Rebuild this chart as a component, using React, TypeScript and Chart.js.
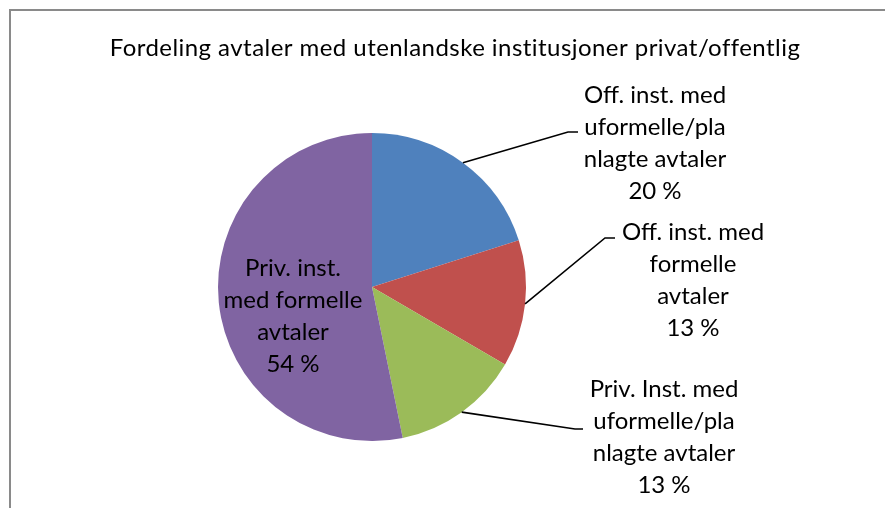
import React, { useEffect, useRef } from "react";
import { Chart, registerables } from "chart.js";

Chart.register(...registerables);

const TITLE = "Fordeling avtaler med utenlandske institusjoner privat/offentlig";
const CATEGORIES = [
  "Off. inst. med uformelle/planlagte avtaler",
  "Off. inst. med formelle avtaler",
  "Priv. Inst. med uformelle/planlagte avtaler",
  "Priv. inst. med formelle avtaler",
];
// slice sizes
const VALUES = [20.1, 13.3, 13.4, 53.2];
const LABEL_LINES = [
  ["Off. inst. med", "uformelle/pla", "nlagte avtaler", "20 %"],
  ["Off. inst. med", "formelle", "avtaler", "13 %"],
  ["Priv. Inst. med", "uformelle/pla", "nlagte avtaler", "13 %"],
  ["Priv. inst.", "med formelle", "avtaler", "54 %"],
];
const COLORS = ["#4F81BD", "#C0504D", "#9BBB59", "#8064A2"];

// label layout (styles/positions, not data)
const LABEL_POS = [
  { x: 655, y: 95, elbow: { x: 568, y: 132 }, end: { x: 578, y: 132 } },
  { x: 693, y: 232, elbow: { x: 605, y: 238 }, end: { x: 615, y: 238 } },
  { x: 664, y: 389, elbow: { x: 575, y: 429 }, end: { x: 583, y: 429 } },
  { x: 293, y: 268, elbow: null, end: null },
];
const LINE_H = 32;
const FONT = "Lato, 'Open Sans', sans-serif";

const labelPlugin = {
  id: "customLabels",
  beforeDraw(chart: any) {
    const ctx = chart.ctx;
    ctx.save();
    ctx.fillStyle = "#ffffff";
    ctx.fillRect(0, 0, chart.width, chart.height);
    ctx.strokeStyle = "#8a8a8a";
    ctx.lineWidth = 2;
    ctx.beginPath();
    ctx.moveTo(10, chart.height);
    ctx.lineTo(10, 10);
    ctx.lineTo(chart.width, 10);
    ctx.stroke();
    ctx.fillStyle = "#000000";
    ctx.font = `24px ${FONT}`;
    try { (ctx as any).letterSpacing = "0.45px"; } catch (e) {}
    ctx.textAlign = "center";
    ctx.textBaseline = "middle";
    ctx.fillText(TITLE, 455, 48);
    ctx.restore();
  },
  afterDraw(chart: any) {
    const ctx = chart.ctx;
    const meta = chart.getDatasetMeta(0);
    ctx.save();
    meta.data.forEach((arc: any, i: number) => {
      const pos = LABEL_POS[i];
      if (pos.elbow && pos.end) {
        const mid = (arc.startAngle + arc.endAngle) / 2;
        const sx = arc.x + Math.cos(mid) * arc.outerRadius;
        const sy = arc.y + Math.sin(mid) * arc.outerRadius;
        ctx.strokeStyle = "#000000";
        ctx.lineWidth = 1.6;
        ctx.beginPath();
        ctx.moveTo(sx, sy);
        ctx.lineTo(pos.elbow.x, pos.elbow.y);
        ctx.lineTo(pos.end.x, pos.end.y);
        ctx.stroke();
      }
      ctx.fillStyle = "#000000";
      ctx.font = `24px ${FONT}`;
      ctx.textAlign = "center";
      ctx.textBaseline = "middle";
      LABEL_LINES[i].forEach((line, j) => {
        ctx.fillText(line, pos.x, pos.y + j * LINE_H);
      });
    });
    ctx.restore();
  },
};

export default function App() {
  const ref = useRef<HTMLCanvasElement>(null);
  useEffect(() => {
    document.body.style.margin = "0";
    const chart = new Chart(ref.current!, {
      type: "pie",
      data: {
        labels: CATEGORIES,
        datasets: [
          {
            data: VALUES,
            backgroundColor: COLORS,
            borderWidth: 0,
          },
        ],
      },
      options: {
        animation: false,
        responsive: false,
        maintainAspectRatio: false,
        layout: { padding: { top: 133, bottom: 67, left: 218, right: 359 } },
        plugins: {
          legend: { display: false },
          tooltip: { enabled: false },
          title: { display: false },
        },
      },
      plugins: [labelPlugin],
    });
    return () => chart.destroy();
  }, []);
  return (
    <div style={{ width: 885, height: 508 }}>
      <canvas ref={ref} width={885} height={508} style={{ display: "block" }} />
    </div>
  );
}
